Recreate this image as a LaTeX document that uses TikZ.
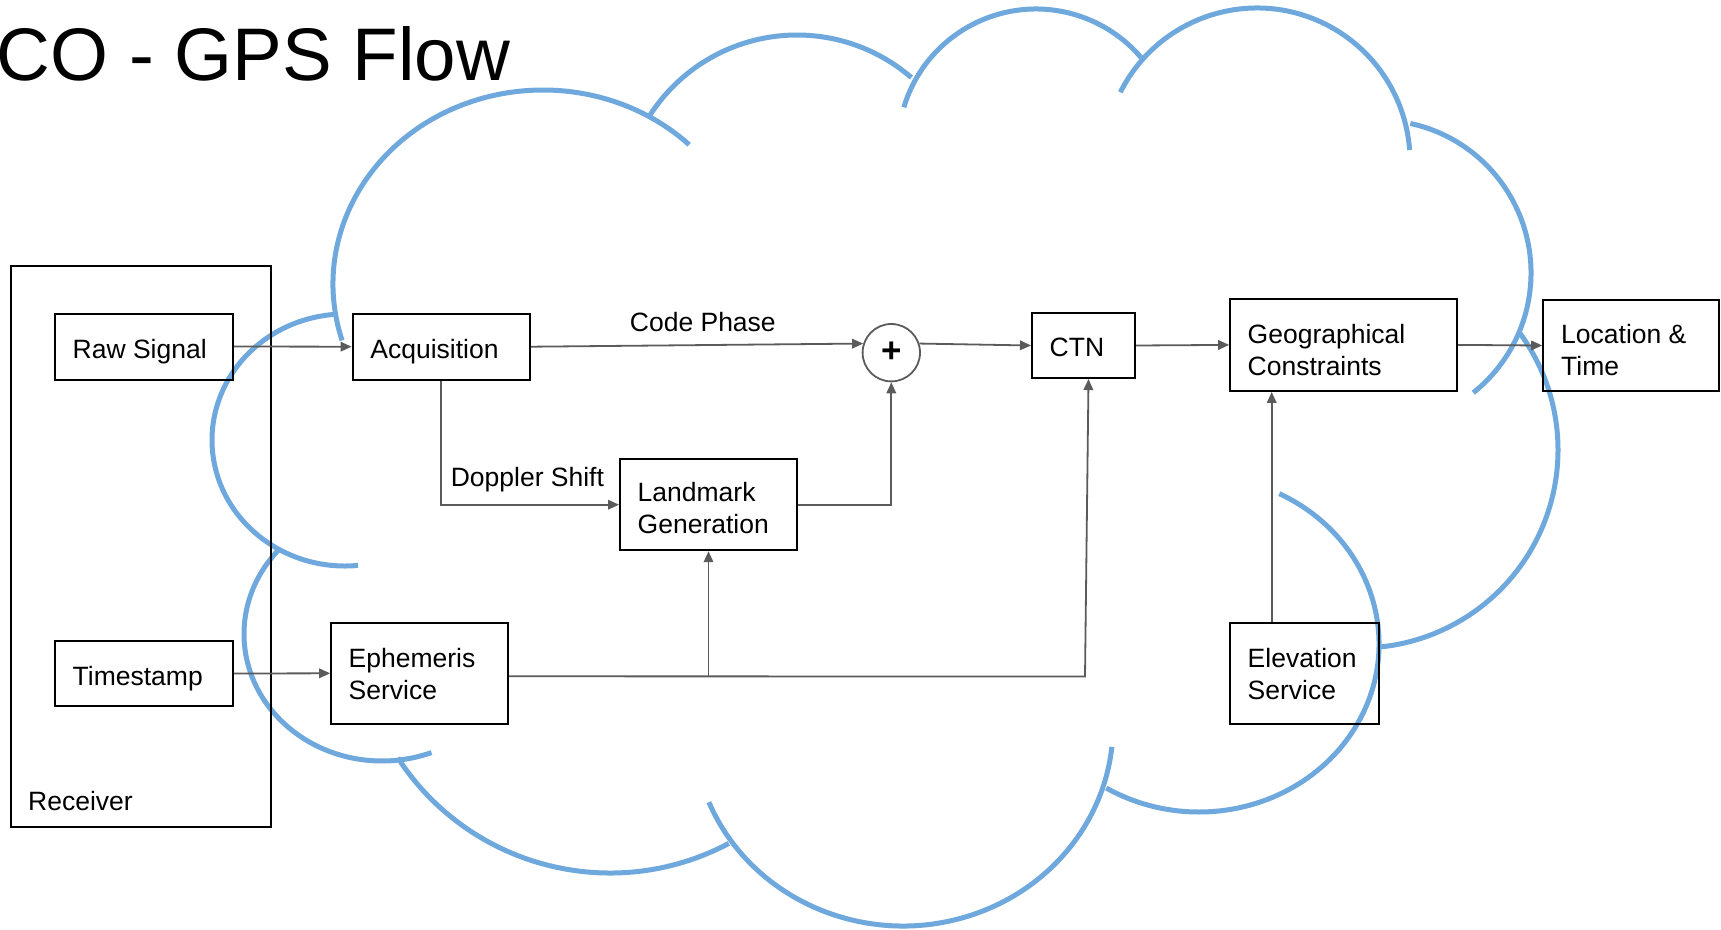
\documentclass[tikz,border=0pt]{standalone}
\usepackage{fontspec}
\setmainfont{Liberation Sans}
\usetikzlibrary{arrows.meta}
\definecolor{cloudblue}{HTML}{6FA8DC}
\definecolor{linegrey}{HTML}{5B5B5B}
% one lobe of the cloud: centre x, centre y, x radius, y radius, start angle, end angle
\newcommand\cloudarc[6]{\draw[cloudline] (#1,#2) ++(#5:#3pt and #4pt) arc[start angle=#5, end angle=#6, x radius=#3pt, y radius=#4pt];}
\begin{document}
\begin{tikzpicture}[x=1pt,y=-1pt,
  cloudline/.style={draw=cloudblue, line width=5pt},
  box/.style={draw=black, line width=2pt, inner sep=0pt},
  txt/.style={anchor=north west, inner sep=0pt, align=left, font=\fontsize{26.5pt}{32pt}\selectfont},
  lbl/.style={anchor=base west, inner sep=0pt, font=\fontsize{26.5pt}{32pt}\selectfont},
  conn/.style={draw=linegrey, line width=1.8pt, -{Triangle[length=11pt,width=9.5pt]}}]
\path[use as bounding box, fill=white] (0,0) rectangle (1721,929);

% cloud outline
\cloudarc{543}{284}{210}{194}{-163.1}{-314.1}
\cloudarc{797}{210}{175}{175}{-212.9}{-310.8}
\cloudarc{1036}{147}{138}{138}{-196.7}{-319.7}
\cloudarc{1257}{161}{153}{153}{-206.7}{-355.9}
\cloudarc{1378}{273}{153}{153}{77.8}{-51.5}
\cloudarc{1360}{450}{198}{198}{36.7}{-84.2}
\cloudarc{1199}{644}{180}{168}{63.5}{-121}
\cloudarc{903}{726}{210}{200}{-157.6}{-6}
\cloudarc{610}{620}{253}{253}{-147}{-62}
\cloudarc{382}{634}{138}{127}{-222}{-69}
\cloudarc{345}{440}{133}{126}{-84.4}{-265}

% title
\node[anchor=base west, inner sep=0pt, font=\fontsize{74.5pt}{90pt}\selectfont] (title) at (-3.4,80.7) {CO - GPS Flow};

% boxes
\node[box, minimum width=260pt, minimum height=561pt] (receiver) at (141,546.5) {};
\node[box, minimum width=178pt, minimum height=66pt] (raw) at (144,346.5) {};
\node[box, minimum width=178pt, minimum height=65pt] (ts) at (144,673.5) {};
\node[box, minimum width=177.5pt, minimum height=66pt] (acq) at (441.3,346.7) {};
\node[box, minimum width=177pt, minimum height=101pt] (eph) at (419.7,673.3) {};
\node[box, minimum width=177pt, minimum height=91pt] (land) at (708.5,504.7) {};
\node[circle, draw=linegrey, line width=1.8pt, minimum size=57.4pt, inner sep=0pt,
      font=\fontsize{35pt}{40pt}\selectfont\bfseries] (plus) at (891.3,352.7) {+};
\node[box, minimum width=103pt, minimum height=65pt] (ctn) at (1083.5,345.5) {};
\node[box, minimum width=227pt, minimum height=92pt] (geo) at (1343.7,344.9) {};
\node[box, minimum width=176pt, minimum height=91pt] (loc) at (1631.2,345.5) {};
\node[box, minimum width=149pt, minimum height=101.6pt] (elev) at (1304.7,673.5) {};

% box texts
\node[txt] (rawtext) at (72.5,335.9) {\strut Raw Signal};
\node[txt] (acqtext) at (370.2,335.9) {\strut Acquisition};
\node[txt] (tstext) at (72.5,662.6) {\strut Timestamp};
\node[txt] (ephtext) at (348.5,644.6) {\strut Ephemeris\\Service};
\node[txt] (landtext) at (637.5,479.3) {\strut Landmark\\Generation};
\node[txt] (ctntext) at (1049.5,333.6) {\strut CTN};
\node[txt] (geotext) at (1247.5,320.9) {\strut Geographical\\Constraints};
\node[txt] (loctext) at (1561,320.9) {\strut Location \&\\Time};
\node[txt] (elevtext) at (1247.5,645.3) {\strut Elevation\\Service};
\node[lbl] (receivertext) at (28,810) {Receiver};

% connector labels
\node[lbl] (codephase) at (629.7,331.7) {Code Phase};
\node[lbl] (doppler) at (450.6,486.7) {Doppler Shift};

% connectors
\draw[conn] (raw.east) -- (acq.west);
\draw[conn] (acq.east) -- (plus.162);
\draw[conn] (plus.18) -- (ctn.west);
\draw[conn] (ctn.east) -- (geo.west);
\draw[conn] (geo.east) -- (loc.west);
\draw[conn] (acq.south) |- (land.west);
\draw[conn] (land.east) -| (plus.south);
\draw[conn] (ts.east) -- (eph.west);
\coordinate (ejoin) at (1085,676.5);
\draw[conn] ([yshift=-3pt]eph.east) -- (ejoin) -- ([xshift=5pt]ctn.south);
\draw[conn] (land.south |- ejoin) -- (land.south);
\coordinate (elevtap) at ([xshift=-33pt]elev.north);
\draw[conn] (elevtap) -- (elevtap |- geo.south);
\end{tikzpicture}
\end{document}
